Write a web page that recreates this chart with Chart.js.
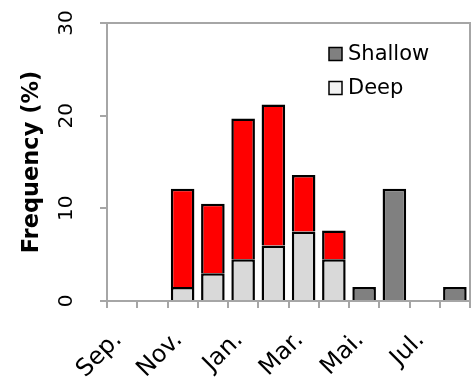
<!DOCTYPE html>
<html>
<head>
<meta charset="utf-8">
<script src="https://cdn.jsdelivr.net/npm/chart.js@4"></script>
<style>
  html, body { margin: 0; padding: 0; background: #fff; }
  #wrap { width: 472px; height: 382px; }
</style>
</head>
<body>
<div id="wrap"><canvas id="freqChart" width="472" height="382"></canvas></div>
<script>
const months = ['Sep.', 'Oct.', 'Nov.', 'Dec.', 'Jan.', 'Feb.', 'Mar.', 'Apr.', 'Mai.', 'Jun.', 'Jul.', 'Aug.'];
const deepValues = [null, null, 1.5, 3.0, 4.5, 6.0, 7.5, 4.5, null, null, null, null];
const shallowValues = [null, null, 10.6, 7.5, 15.2, 15.2, 6.1, 3.1, 1.5, 12.1, null, 1.5];
const yTickValues = [0, 10, 20, 30];
const yTitle = 'Frequency (%)';

const FONT = '"DejaVu Sans", sans-serif';
const AXIS_GREY = '#a6a6a6';

// frame, rotated y labels, y title and the legend are drawn by hand
const decorPlugin = {
  id: 'decor',
  beforeDatasetsDraw(chart) {
    const { ctx, chartArea: a } = chart;
    ctx.save();
    ctx.strokeStyle = AXIS_GREY;
    ctx.lineWidth = 2;
    ctx.strokeRect(a.left, a.top, a.right - a.left, a.bottom - a.top);
    ctx.restore();
  },
  afterDraw(chart) {
    const { ctx, chartArea: a } = chart;
    const yScale = chart.scales.y;
    ctx.save();
    ctx.fillStyle = '#000';
    ctx.textAlign = 'center';
    ctx.textBaseline = 'middle';

    ctx.font = '20px ' + FONT;
    yTickValues.forEach((v) => {
      const py = yScale.getPixelForValue(v);
      ctx.save();
      ctx.translate(a.left - 40, py);
      ctx.rotate(-Math.PI / 2);
      ctx.fillText(String(v), 0, 0);
      ctx.restore();
    });

    ctx.font = 'bold 22.5px ' + FONT;
    ctx.save();
    ctx.translate(a.left - 75, (a.top + a.bottom) / 2);
    ctx.rotate(-Math.PI / 2);
    ctx.fillText(yTitle, 0, 0);
    ctx.restore();

    // legend, Shallow above Deep
    const items = [
      { label: chart.data.datasets[1].label, fill: '#808080' },
      { label: chart.data.datasets[0].label, fill: '#f2f2f2' },
    ];
    ctx.font = '21px ' + FONT;
    ctx.textAlign = 'left';
    items.forEach((it, i) => {
      const cy = a.top + 31 + i * 34;
      const bx = a.right - 141;
      ctx.fillStyle = it.fill;
      ctx.fillRect(bx, cy - 6.5, 13, 13);
      ctx.strokeStyle = '#000';
      ctx.lineWidth = 1.5;
      ctx.strokeRect(bx, cy - 6.5, 13, 13);
      ctx.fillStyle = '#000';
      ctx.fillText(it.label, bx + 19, cy + 1);
    });
    ctx.restore();
  }
};

new Chart(document.getElementById('freqChart'), {
  type: 'bar',
  data: {
    labels: months,
    datasets: [
      {
        label: 'Deep',
        data: deepValues,
        backgroundColor: '#d9d9d9',
        borderColor: '#000',
        borderWidth: 2.5,
        barPercentage: 0.78,
        categoryPercentage: 1,
      },
      {
        label: 'Shallow',
        data: shallowValues,
        // red where the month also has a deep part, grey otherwise
        backgroundColor: (c) => (deepValues[c.dataIndex] != null ? '#ff0000' : '#808080'),
        borderColor: '#000',
        borderWidth: 2.5,
        barPercentage: 0.78,
        categoryPercentage: 1,
      }
    ]
  },
  options: {
    responsive: false,
    animation: false,
    layout: { padding: { top: 23, right: 2, left: 0, bottom: 0 } },
    plugins: {
      legend: { display: false },
      tooltip: { enabled: false }
    },
    scales: {
      x: {
        stacked: true,
        offset: true,
        grid: {
          offset: true,
          drawOnChartArea: false,
          drawTicks: true,
          tickLength: 7,
          color: AXIS_GREY,
          lineWidth: 2,
        },
        border: { color: AXIS_GREY, width: 2 },
        ticks: {
          autoSkip: false,
          minRotation: 45,
          maxRotation: 45,
          labelOffset: -4,
          padding: 18,
          color: '#000',
          font: { family: FONT, size: 24 },
          callback: (val, idx) => (idx % 2 === 0 ? months[idx] : ''),
        },
        afterFit: (s) => {
          s.height = 81;
          s.paddingLeft = 0;
          s.paddingRight = 0;
        }
      },
      y: {
        stacked: true,
        min: 0,
        max: 30,
        ticks: { stepSize: 10, display: false },
        grid: {
          drawOnChartArea: false,
          drawTicks: true,
          tickLength: 7,
          color: AXIS_GREY,
          lineWidth: 2,
        },
        border: { color: AXIS_GREY, width: 2 },
        afterFit: (s) => { s.width = 107; }
      }
    }
  },
  plugins: [decorPlugin]
});
</script>
</body>
</html>
